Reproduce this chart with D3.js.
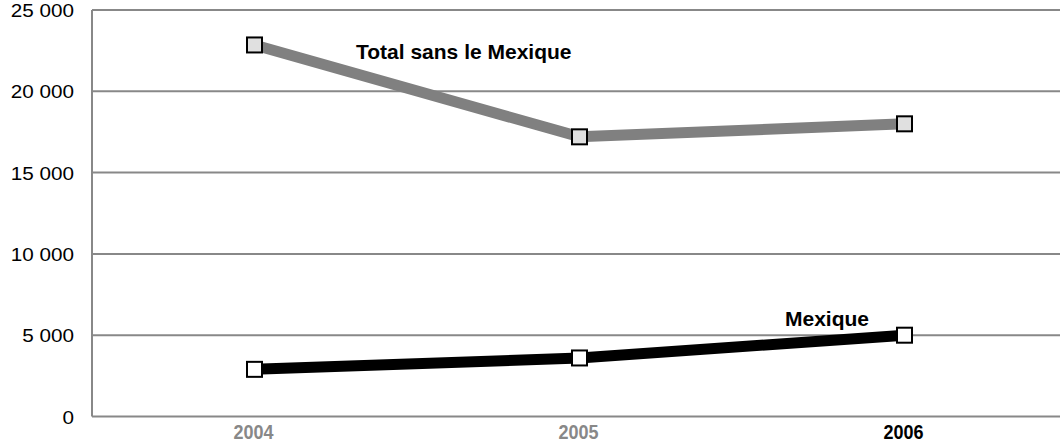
<!DOCTYPE html>
<html>
<head>
<meta charset="utf-8">
<script src="https://cdn.jsdelivr.net/npm/d3@7"></script>
<style>
  html, body { margin: 0; padding: 0; background: #fff; }
  svg { display: block; }
</style>
</head>
<body>
<svg id="chart" width="1060" height="447"></svg>
<script>
// Years on the horizontal axis
const years = ["2004", "2005", "2006"];
// Series values
const totalSansMexique = [22850, 17200, 18000];
const mexique = [2900, 3600, 5000];
// Y axis ticks
const yTicks = [0, 5000, 10000, 15000, 20000, 25000];

const svg = d3.select("#chart");
const margin = { left: 92, top: 10 };
const width = 1060;
const FONT = "Liberation Sans, Arial, sans-serif";

const x = d3.scalePoint()
  .domain(years)
  .range([margin.left, margin.left + 3 * 325])
  .padding(0.5);

const y = d3.scaleLinear()
  .domain([0, 25000])
  .range([416.5, margin.top]);

const fmt = v => d3.format(",")(v).replace(/,/g, " ");

// Horizontal gridlines
svg.append("g")
  .selectAll("line")
  .data(yTicks)
  .join("line")
  .attr("x1", margin.left)
  .attr("x2", width)
  .attr("y1", d => y(d))
  .attr("y2", d => y(d))
  .attr("stroke", "#888")
  .attr("stroke-width", 2);

// Vertical axis line
svg.append("line")
  .attr("x1", margin.left).attr("x2", margin.left)
  .attr("y1", y(25000)).attr("y2", y(0))
  .attr("stroke", "#888").attr("stroke-width", 2);

// Y tick labels (slightly widened glyphs)
svg.append("g")
  .selectAll("text")
  .data(yTicks)
  .join("text")
  .attr("transform", d => `translate(74,${y(d) + 7}) scale(1.15,1)`)
  .attr("text-anchor", "end")
  .attr("font-family", FONT)
  .attr("font-size", 18)
  .attr("fill", "#000")
  .text(d => fmt(d));

// X labels (condensed bold)
svg.append("g")
  .selectAll("text")
  .data(years)
  .join("text")
  .attr("transform", d => `translate(${x(d) - 1},439) scale(0.9,1)`)
  .attr("text-anchor", "middle")
  .attr("font-family", FONT)
  .attr("font-weight", "bold")
  .attr("font-size", 20)
  .attr("fill", d => d === "2006" ? "#000" : "#888")
  .text(d => d);

const line = d3.line()
  .x((d, i) => x(years[i]))
  .y(d => y(d));

function drawSeries(values, lineColor, markerFill) {
  svg.append("path")
    .datum(values)
    .attr("d", line)
    .attr("fill", "none")
    .attr("stroke", lineColor)
    .attr("stroke-width", 11)
    .attr("stroke-linejoin", "miter");
  const s = 15;
  svg.append("g")
    .selectAll("rect")
    .data(values)
    .join("rect")
    .attr("x", (d, i) => x(years[i]) - s / 2)
    .attr("y", d => y(d) - s / 2)
    .attr("width", s)
    .attr("height", s)
    .attr("fill", markerFill)
    .attr("stroke", "#000")
    .attr("stroke-width", 2);
}

drawSeries(totalSansMexique, "#808080", "#e0e0e0");
drawSeries(mexique, "#000", "#fff");

// Series labels
const labelStyle = sel => sel
  .attr("font-family", FONT)
  .attr("font-weight", "bold")
  .attr("font-size", 21)
  .attr("fill", "#000");

svg.append("text")
  .attr("x", 356)
  .attr("y", 59)
  .call(labelStyle)
  .text("Total sans le Mexique");

svg.append("text")
  .attr("x", 785)
  .attr("y", 326)
  .call(labelStyle)
  .text("Mexique");
</script>
</body>
</html>
